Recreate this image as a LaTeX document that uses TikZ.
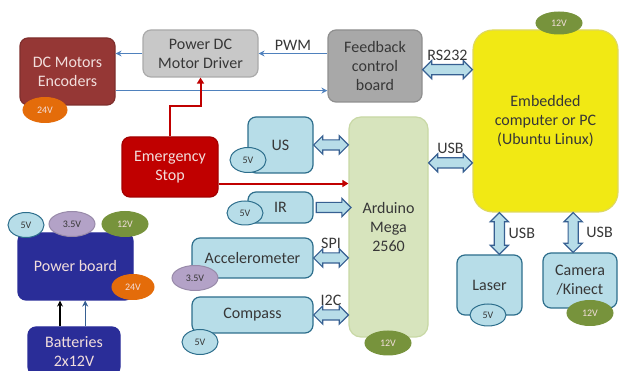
\documentclass[tikz,border=0pt]{standalone}
\usepackage{fontspec}
\setmainfont{Carlito}
\usetikzlibrary{shapes.geometric,shapes.arrows,arrows.meta,calc,positioning}

\definecolor{motred}{RGB}{149,55,53}
\definecolor{lighttxt}{RGB}{242,222,220}
\definecolor{drvgray}{RGB}{200,200,200}
\definecolor{fbgray}{RGB}{168,168,168}
\definecolor{graytxt}{RGB}{55,55,55}
\definecolor{pcyel}{RGB}{241,233,20}
\definecolor{pcline}{RGB}{222,216,96}
\definecolor{ardgreen}{RGB}{215,228,189}
\definecolor{ardline}{RGB}{200,216,165}
\definecolor{sensfill}{RGB}{183,221,232}
\definecolor{sensline}{RGB}{45,110,140}
\definecolor{stopred}{RGB}{192,0,0}
\definecolor{pwrblue}{RGB}{42,45,152}
\definecolor{olive}{RGB}{119,147,60}
\definecolor{volorange}{RGB}{228,108,10}
\definecolor{lilac}{RGB}{179,162,199}
\definecolor{sigblue}{RGB}{79,129,189}
\definecolor{busline}{RGB}{55,96,146}

\tikzset{
  blk/.style={rounded corners=8pt, line width=1.2pt, align=center, inner sep=2pt,
    font=\fontsize{16}{19}\selectfont, text=graytxt},
  sensor/.style={blk, fill=sensfill, draw=sensline},
  volt/.style={ellipse, line width=1pt, inner sep=0pt, minimum height=25pt,
    font=\fontsize{10}{12}\selectfont},
  v5/.style={volt, fill=sensfill, draw=sensline, text=graytxt, minimum width=36pt},
  v35/.style={volt, fill=lilac, draw=lilac!85!black, text=graytxt, minimum width=46pt},
  v12/.style={volt, fill=olive, draw=olive, text=lighttxt, minimum width=46pt},
  v24/.style={volt, fill=volorange, draw=volorange, text=lighttxt, minimum width=44pt},
  sig/.style={draw=sigblue, line width=1.2pt, -{Stealth[length=6pt,width=6pt]}},
  estop/.style={draw=stopred, line width=2pt, -{Triangle[length=6pt,width=7pt]}},
  bus/.style={double arrow, fill=sensfill, draw=busline, line width=1.2pt,
    inner xsep=0pt, inner ysep=4.5pt, double arrow head extend=4pt},
  busone/.style={single arrow, fill=sensfill, draw=busline, line width=1.2pt,
    inner xsep=0pt, inner ysep=4.5pt, single arrow head extend=4pt},
  lbl/.style={font=\fontsize{16}{19}\selectfont, text=graytxt, inner sep=1pt}
}

% horizontal bus arrow from a point to the west side of a node
\newcommand{\hbus}[4][bus]{%
  \path let \p1=(#3), \p2=(#4.west) in
    node[#1, minimum height={\x2-\x1}] (#2) at ({(\x1+\x2)/2},\y1) {};}
% vertical bus arrow from a point up to the south side of a node
\newcommand{\vbus}[3]{%
  \path let \p1=(#2), \p2=(#3.south) in
    node[bus, rotate=90, minimum height={\y2-\y1}] (#1) at (\x1,{(\y1+\y2)/2}) {};}

\begin{document}
\begin{tikzpicture}[x=1pt, y=-1pt]
    \useasboundingbox (0,0) rectangle (619,371);
    % motor chain
    \node[blk, fill=motred, draw=motred!85!black, text=lighttxt, minimum width=95pt, minimum height=67pt] (dcm) at (67.5,71.5) {DC Motors\\Encoders};
    \node[blk, fill=drvgray, draw=drvgray!85!black, minimum width=115pt, minimum height=47pt] (drv) at (200.5,53.5) {Power DC\\Motor Driver};
    \node[blk, fill=fbgray, draw=fbgray!85!black, minimum width=94pt, minimum height=72pt] (fb) at (375,66) {Feedback\\control\\board};
    \node[blk, rounded corners=20pt, fill=pcyel, draw=pcline, minimum width=145pt, minimum height=182pt] (pc) at (545.5,121) {Embedded\\computer or PC\\(Ubuntu Linux)};
    \node[blk, rounded corners=12pt, fill=ardgreen, draw=ardline, minimum width=79pt, minimum height=220pt] (ard) at (388.5,227) {Arduino\\Mega\\2560};
    \node[blk, fill=stopred, draw=stopred!85!black, text=lighttxt, minimum width=96pt, minimum height=60pt] (stop) at (170,167) {Emergency\\Stop};
    % sensors
    \node[sensor, minimum width=65pt, minimum height=56pt] (us) at (280.5,145) {US};
    \node[sensor, minimum width=65pt, minimum height=31pt] (ir) at (280.5,207.5) {IR};
    \node[sensor, minimum width=121pt, minimum height=40pt] (acc) at (252.5,258) {Accelerometer};
    \node[sensor, minimum width=121pt, minimum height=36pt] (cmp) at (252.5,315) {Compass};
    \node[sensor, minimum width=65pt, minimum height=60pt] (laser) at (489.5,285) {Laser};
    \node[sensor, minimum width=74pt, minimum height=55pt] (cam) at (580,280.5) {Camera\\/Kinect};
    % power
    \node[blk, fill=pwrblue, draw=pwrblue, text=lighttxt, minimum width=115pt, minimum height=67pt] (pwr) at (75.5,266.5) {Power board};
    \node[blk, fill=pwrblue, draw=pwrblue, text=lighttxt, minimum width=92pt, minimum height=48pt] (bat) at (74,351) {Batteries\\2x12V};

    % supply voltages
    \node[v24] (dcm24) at (45,110) {24V};
    \node[v12, minimum height=22pt] (pc12) at (559,23) {12V};
    \node[v12, minimum height=24pt] (ard12) at (388,343) {12V};
    \node[v5] (us5) at (248,160) {5V};
    \node[v5, minimum height=24pt] (ir5) at (245,213) {5V};
    \node[v35] (acc35) at (195,278) {3.5V};
    \node[v5] (cmp5) at (200,342) {5V};
    \node[v5] (pwr5) at (26,225) {5V};
    \node[v35] (pwr35) at (72,224) {3.5V};
    \node[v12] (pwr12) at (125,224) {12V};
    \node[v24, minimum width=42pt] (pwr24) at (133,287) {24V};
    \node[v5, minimum height=22pt] (laser5) at (488,315) {5V};
    \node[v12] (cam12) at (590,313) {12V};

    % signal lines
    \draw[sig] (drv.west) -- (drv.west -| dcm.east);
    \draw[sig] (drv.east -| fb.west) -- node[lbl, above=1pt] {PWM} (drv.east);
    \coordinate (enc) at ($(dcm.north east)!0.78!(dcm.south east)$);
    \draw[sig] (enc) -- (enc -| fb.west);
    \draw[estop] (stop.north) |- ($(drv.south)+(0,28)$) -- (drv.south);
    \coordinate (stopout) at ($(stop.north east)!0.77!(stop.south east)$);
    \draw[estop] (stopout) -- (stopout -| ard.west);
    \coordinate (batl) at ($(bat.north west)!0.35!(bat.north east)$);
    \coordinate (batr) at ($(bat.north west)!0.62!(bat.north east)$);
    \draw[line width=1.2pt, -{Stealth[length=6pt,width=6pt]}] (batl) -- (batl |- pwr.south);
    \draw[sig, draw=busline] (batr) -- (batr |- pwr.south);

    % data buses
    \hbus{rs}{$(fb.north east)!0.55!(fb.south east)$}{pc}
    \node[lbl, above=8pt of rs.center] {RS232};
    \hbus{usbpc}{$(ard.north east)!0.21!(ard.south east)$}{pc}
    \node[lbl, above=8pt of usbpc.center] {USB};
    \hbus{usbus}{us.east}{ard}
    \hbus[busone]{irbus}{ir.east}{ard}
    \hbus{spi}{acc.east}{ard}
    \node[lbl, above=8pt of spi.center] {SPI};
    \hbus{i2c}{cmp.east}{ard}
    \node[lbl, above=8pt of i2c.center] {I2C};
    \vbus{usbl}{$(laser.north west)!0.65!(laser.north east)$}{pc}
    \node[lbl, right=8pt of usbl.center] {USB};
    \vbus{usbc}{$(cam.north west)!0.41!(cam.north east)$}{pc}
    \node[lbl, right=12pt of usbc.center] {USB};
\end{tikzpicture}
\end{document}
